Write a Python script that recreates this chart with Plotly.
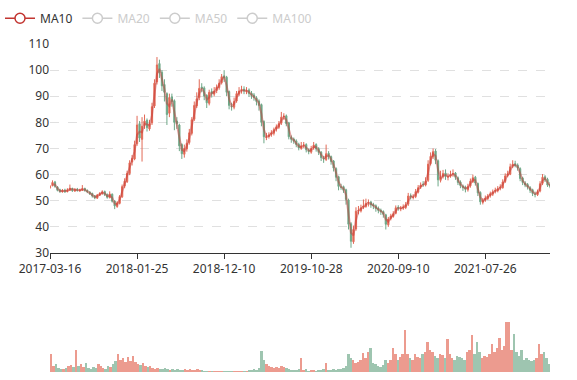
import plotly.graph_objects as go
import pandas as pd

# ---- data (each candle ~ one trading week) ----
tick_labels = ["2017-03-16", "2018-01-25", "2018-12-10", "2019-10-28", "2020-09-10", "2021-07-26"]
tick_step = 35

opens = [
    55.0, 55.8, 57.2, 55.3, 54.2, 53.4, 54.1, 53.5, 54.0, 54.7,
    53.7, 54.4, 53.8, 54.0, 54.7, 54.0, 53.3, 52.8, 51.9, 51.0,
    52.1, 52.7, 53.5, 52.4, 51.2, 52.5, 49.9, 47.8, 49.0, 51.5,
    55.6, 57.3, 60.4, 64.8, 66.0, 71.8, 79.5, 73.5, 78.8, 80.8,
    77.5, 79.8, 86.3, 95.5, 102.5, 99.2, 94.5, 91.0, 83.5, 89.8,
    88.3, 80.5, 79.0, 71.5, 67.8, 69.8, 72.3, 75.8, 81.2, 86.3,
    89.5, 93.5, 93.2, 90.3, 87.3, 91.8, 90.8, 92.2, 93.3, 95.2,
    97.8, 97.3, 91.8, 86.2, 85.8, 88.2, 90.8, 92.2, 92.7, 91.8,
    92.4, 91.2, 90.5, 89.4, 88.2, 86.8, 80.3, 74.2, 74.6, 75.4,
    75.8, 77.4, 78.1, 79.7, 82.2, 82.5, 79.8, 74.3, 73.6, 72.9,
    71.6, 70.0, 71.2, 71.5, 69.4, 68.6, 70.2, 71.5, 70.0, 68.6,
    66.3, 65.8, 68.2, 66.9, 65.2, 62.3, 59.2, 55.3, 55.4, 54.2,
    50.3, 41.2, 34.3, 39.2, 46.2, 46.1, 47.5, 47.8, 49.2, 49.5,
    48.6, 48.1, 47.2, 46.4, 45.9, 44.6, 40.8, 43.2, 44.0, 45.2,
    47.5, 46.9, 47.2, 47.4, 48.7, 51.9, 51.3, 51.6, 53.3, 55.2,
    56.3, 56.0, 57.8, 64.2, 66.8, 69.0, 65.3, 57.8, 59.2, 60.6,
    59.1, 59.4, 60.2, 60.6, 58.8, 57.2, 55.6, 55.2, 54.2, 55.7,
    57.3, 59.0, 56.6, 53.2, 49.4, 50.3, 50.8, 52.0, 52.5, 53.6,
    53.8, 54.8, 55.0, 57.4, 59.7, 60.1, 63.2, 64.2, 63.7, 62.3,
    58.7, 56.8, 56.2, 55.0, 54.2, 52.6, 52.3, 53.7, 56.7, 59.2,
    58.2, 56.2,
]
highs = [
    56.0, 57.8, 57.6, 55.6, 54.6, 54.5, 54.6, 54.8, 56.2, 55.0,
    54.8, 54.9, 54.6, 56.0, 55.0, 54.3, 53.7, 53.1, 52.2, 52.6,
    53.3, 54.0, 53.9, 52.8, 53.6, 52.8, 50.2, 49.8, 52.2, 56.2,
    58.6, 61.5, 65.5, 67.5, 73.0, 82.5, 80.5, 82.0, 83.0, 81.5,
    81.0, 87.5, 96.5, 105.0, 104.0, 100.0, 96.5, 91.5, 91.0, 91.0,
    88.8, 82.0, 79.5, 72.0, 71.5, 73.5, 77.5, 82.0, 88.0, 91.5,
    96.5, 95.0, 93.8, 90.8, 92.5, 93.0, 93.5, 94.5, 96.5, 98.5,
    100.0, 97.8, 92.2, 87.5, 89.5, 92.0, 93.5, 94.0, 93.8, 93.5,
    93.0, 92.0, 91.2, 90.0, 88.8, 87.2, 80.8, 76.0, 76.2, 77.0,
    78.0, 79.2, 80.5, 84.0, 83.5, 83.0, 80.2, 75.0, 74.2, 73.5,
    72.2, 72.5, 72.5, 72.0, 70.0, 71.0, 72.5, 72.0, 70.5, 69.0,
    67.2, 71.5, 69.0, 67.3, 65.6, 62.8, 59.6, 56.5, 55.8, 54.6,
    50.8, 41.8, 40.5, 47.5, 48.0, 48.5, 50.5, 50.8, 50.5, 50.0,
    49.2, 48.6, 47.8, 47.0, 46.3, 45.0, 43.8, 45.0, 46.0, 48.2,
    48.3, 48.0, 48.6, 49.5, 53.0, 52.8, 52.5, 54.5, 56.0, 57.0,
    57.5, 59.0, 65.5, 68.5, 70.0, 69.8, 65.8, 61.5, 61.8, 62.0,
    60.5, 61.5, 62.0, 61.0, 59.3, 57.8, 56.2, 55.8, 56.5, 58.5,
    60.0, 59.5, 57.0, 53.6, 51.0, 52.0, 52.6, 53.5, 54.3, 55.0,
    55.6, 56.3, 58.2, 60.5, 61.5, 64.2, 65.5, 65.3, 64.3, 62.8,
    59.2, 57.5, 56.8, 55.6, 54.6, 53.5, 54.3, 57.5, 60.2, 59.8,
    58.8, 57.2,
]
lows = [
    54.6, 55.5, 55.0, 53.6, 53.0, 53.1, 53.0, 53.2, 53.8, 53.4,
    53.4, 53.5, 53.4, 53.8, 53.5, 52.9, 52.2, 51.2, 50.6, 50.7,
    51.8, 52.3, 51.8, 50.8, 50.9, 49.3, 46.8, 47.3, 48.6, 51.1,
    54.8, 56.8, 59.8, 63.5, 65.5, 71.0, 72.5, 65.0, 77.5, 76.5,
    76.8, 79.0, 85.5, 94.5, 97.0, 92.0, 88.0, 79.0, 82.0, 86.0,
    77.0, 77.5, 69.0, 66.0, 66.5, 68.8, 71.5, 75.0, 80.5, 85.5,
    88.5, 91.5, 88.5, 85.5, 86.5, 89.5, 90.0, 91.2, 92.5, 94.5,
    95.5, 90.0, 85.0, 84.5, 85.0, 87.5, 90.0, 91.0, 90.8, 90.8,
    89.8, 89.0, 88.3, 86.5, 84.5, 78.5, 72.0, 73.2, 73.8, 74.5,
    75.0, 76.5, 77.5, 79.0, 81.0, 78.5, 73.5, 72.2, 71.8, 70.5,
    69.3, 69.5, 70.2, 68.5, 67.8, 68.0, 69.5, 68.8, 67.5, 65.2,
    64.5, 65.2, 65.8, 63.8, 61.2, 57.5, 54.0, 54.2, 53.0, 48.5,
    39.0, 32.0, 33.5, 38.5, 44.8, 45.5, 46.8, 47.3, 47.8, 47.3,
    46.8, 45.8, 45.2, 44.6, 43.5, 39.0, 40.0, 42.5, 43.5, 44.8,
    46.2, 46.0, 46.5, 46.8, 48.0, 50.5, 50.5, 51.0, 52.8, 54.5,
    55.3, 55.5, 57.2, 63.5, 66.0, 64.0, 55.5, 57.0, 58.5, 58.0,
    57.8, 58.8, 59.2, 58.0, 56.0, 54.8, 53.8, 53.2, 53.5, 55.0,
    56.8, 55.8, 51.8, 48.5, 48.6, 49.6, 50.3, 51.2, 51.8, 52.8,
    53.2, 54.0, 54.6, 56.8, 59.0, 59.8, 62.5, 62.8, 61.5, 57.5,
    56.0, 55.2, 54.3, 53.0, 51.8, 51.3, 51.8, 53.2, 56.0, 57.2,
    55.3, 54.8,
]
closes = [
    55.5, 57.0, 55.5, 54.0, 53.5, 54.0, 53.4, 54.2, 54.8, 53.8,
    54.3, 53.9, 54.1, 54.6, 53.9, 53.4, 52.7, 51.8, 51.1, 52.2,
    52.8, 53.4, 52.3, 51.3, 52.6, 49.8, 48.0, 49.2, 51.6, 55.4,
    57.5, 60.5, 64.5, 66.2, 71.5, 79.0, 74.0, 78.5, 80.5, 78.0,
    79.5, 86.0, 95.0, 102.0, 99.0, 94.0, 91.5, 83.0, 89.5, 88.0,
    80.0, 79.5, 71.0, 68.0, 70.0, 72.0, 76.0, 81.0, 86.5, 89.0,
    93.0, 93.0, 90.0, 87.5, 91.5, 91.0, 92.0, 93.5, 95.0, 97.5,
    97.0, 91.5, 86.5, 86.0, 88.0, 91.0, 92.0, 92.5, 92.0, 92.2,
    91.0, 90.3, 89.5, 88.0, 86.5, 80.0, 74.5, 74.5, 75.2, 76.0,
    77.2, 78.3, 79.5, 82.0, 82.3, 79.5, 74.5, 73.5, 72.8, 71.5,
    70.2, 71.0, 71.3, 69.5, 68.8, 70.0, 71.3, 69.8, 68.5, 66.5,
    66.0, 68.0, 66.8, 65.0, 62.5, 59.0, 55.5, 55.2, 54.0, 50.5,
    41.0, 34.5, 39.0, 46.0, 46.3, 47.3, 48.0, 49.0, 49.3, 48.4,
    48.0, 47.0, 46.3, 45.8, 44.8, 41.0, 43.0, 44.2, 45.0, 47.3,
    47.1, 47.1, 47.6, 48.5, 51.8, 51.5, 51.4, 53.5, 55.0, 56.0,
    56.2, 57.5, 64.0, 67.0, 68.8, 65.5, 58.0, 59.0, 60.4, 59.3,
    59.2, 60.0, 60.4, 59.0, 57.0, 55.8, 55.0, 54.4, 55.5, 57.5,
    58.8, 56.8, 53.0, 49.6, 50.1, 51.0, 51.8, 52.7, 53.4, 54.0,
    54.6, 55.2, 57.2, 59.5, 60.3, 63.0, 64.0, 63.5, 62.5, 58.5,
    57.0, 56.0, 55.2, 54.0, 52.8, 52.5, 53.5, 56.5, 59.0, 58.0,
    56.0, 55.5,
]
volumes = [
    18, 6, 8, 4, 3, 3, 4, 6, 7, 5,
    22, 6, 8, 5, 9, 4, 3, 5, 4, 8,
    6, 4, 3, 6, 5, 8, 11, 18, 12, 14,
    10, 15, 11, 16, 10, 8, 7, 9, 6, 5,
    6, 4, 3, 4, 3, 3, 4, 3, 2, 3,
    2, 3, 2, 2, 3, 2, 3, 2, 2, 3,
    2, 2, 1.5, 1.5, 1.5, 1.5, 1.5, 1, 1.5, 1.5,
    1, 1, 1, 1, 1, 1, 1, 1, 1.5, 1.5,
    2, 2, 3, 2, 4, 21, 12, 8, 6, 5,
    4, 5, 4, 6, 5, 4, 3, 2, 2, 2,
    3, 14, 2, 3, 1.5, 2, 2, 1.5, 2, 2,
    3, 9, 2, 2, 3, 2, 3, 3, 4, 6,
    18, 14, 12, 9, 10, 12, 19, 14, 20, 24,
    9, 8, 6, 5, 7, 12, 9, 12, 24, 18,
    12, 15, 18, 42, 18, 14, 12, 18, 15, 14,
    18, 20, 30, 22, 20, 16, 14, 18, 17, 14,
    33, 18, 14, 12, 16, 15, 14, 12, 20, 22,
    37, 18, 30, 20, 14, 16, 15, 18, 28, 20,
    24, 34, 22, 26, 50, 50, 22, 38, 20, 16,
    22, 12, 14, 12, 11, 12, 14, 28, 18, 20,
    14, 8,
]
legend_names = ["MA10", "MA20", "MA50", "MA100"]

n = min(len(opens), len(highs), len(lows), len(closes), len(volumes))
opens, highs, lows, closes, volumes = opens[:n], highs[:n], lows[:n], closes[:n], volumes[:n]
idx = list(range(n))

UP = "#e05a45"
DOWN = "#5f9f7c"
MA_COLOR = "#c23531"
FONT = "Noto Sans, Open Sans, sans-serif"

# MA10: 10 trading days ~ 2 of these weekly candles
ma10 = pd.Series(closes).rolling(2).mean()

fig = go.Figure()
fig.add_trace(go.Candlestick(
    x=idx, open=opens, high=highs, low=lows, close=closes,
    increasing=dict(line=dict(color=UP, width=1), fillcolor=UP),
    decreasing=dict(line=dict(color=DOWN, width=1), fillcolor=DOWN),
    opacity=0.9, showlegend=False, hoverinfo="skip",
    xaxis="x", yaxis="y",
))
fig.add_trace(go.Scatter(
    x=idx, y=ma10, mode="lines", line=dict(color=MA_COLOR, width=2),
    opacity=0.45, showlegend=False, hoverinfo="skip", xaxis="x", yaxis="y",
))
vol_colors = [UP if c >= o else DOWN for o, c in zip(opens, closes)]
fig.add_trace(go.Bar(
    x=idx, y=volumes, marker=dict(color=vol_colors, line=dict(width=0)),
    opacity=0.6, showlegend=False, hoverinfo="skip", xaxis="x2", yaxis="y2",
))

# legend entries (only MA10 active, others greyed)
for i, name in enumerate(legend_names):
    col = MA_COLOR if i == 0 else "#cccccc"
    label = name if i == 0 else '<span style="color:#cccccc">%s</span>' % name
    fig.add_trace(go.Scatter(
        x=[None], y=[None], mode="lines+markers", name=label,
        line=dict(color=col, width=1.5),
        marker=dict(symbol="circle", size=10, color="white", line=dict(color=col, width=1.5)),
        xaxis="x", yaxis="y",
    ))

tickvals = [i * tick_step for i in range(len(tick_labels))]

fig.update_layout(
    width=577, height=380,
    margin=dict(l=50, r=27, t=44, b=8, autoexpand=False),
    paper_bgcolor="white", plot_bgcolor="white",
    font=dict(family=FONT, size=12, color="#333"),
    bargap=0,
    showlegend=True,
    legend=dict(orientation="h", x=0.0, y=0.99, xref="container", yref="container",
                xanchor="left", yanchor="top", font=dict(size=12, color="#333"),
                itemwidth=30, bgcolor="rgba(0,0,0,0)"),
    xaxis=dict(domain=[0, 1], anchor="y", range=[0, n - 1],
               tickmode="array", tickvals=tickvals, ticktext=tick_labels,
               ticks="outside", ticklen=5, tickcolor="#333",
               showline=True, linecolor="#333", linewidth=1,
               showgrid=False, zeroline=False, rangeslider=dict(visible=False),
               tickfont=dict(size=12, color="#333"), automargin=False),
    yaxis=dict(domain=[0.3628, 1], anchor="x", range=[30, 110], dtick=10, tick0=30,
               showgrid=True, gridcolor="#e0e0e0", griddash="dash",
               showline=False, zeroline=False, ticks="",
               tickfont=dict(size=12, color="#333"), automargin=False),
    xaxis2=dict(domain=[0, 1], anchor="y2", range=[-0.5, n - 0.5], visible=False,
                rangeslider=dict(visible=False)),
    yaxis2=dict(domain=[0, 0.1738], anchor="x2", range=[0, 57], visible=False),
)

fig.write_html("out.html", config={"displayModeBar": False},
               post_script="document.body.style.margin='0';")
